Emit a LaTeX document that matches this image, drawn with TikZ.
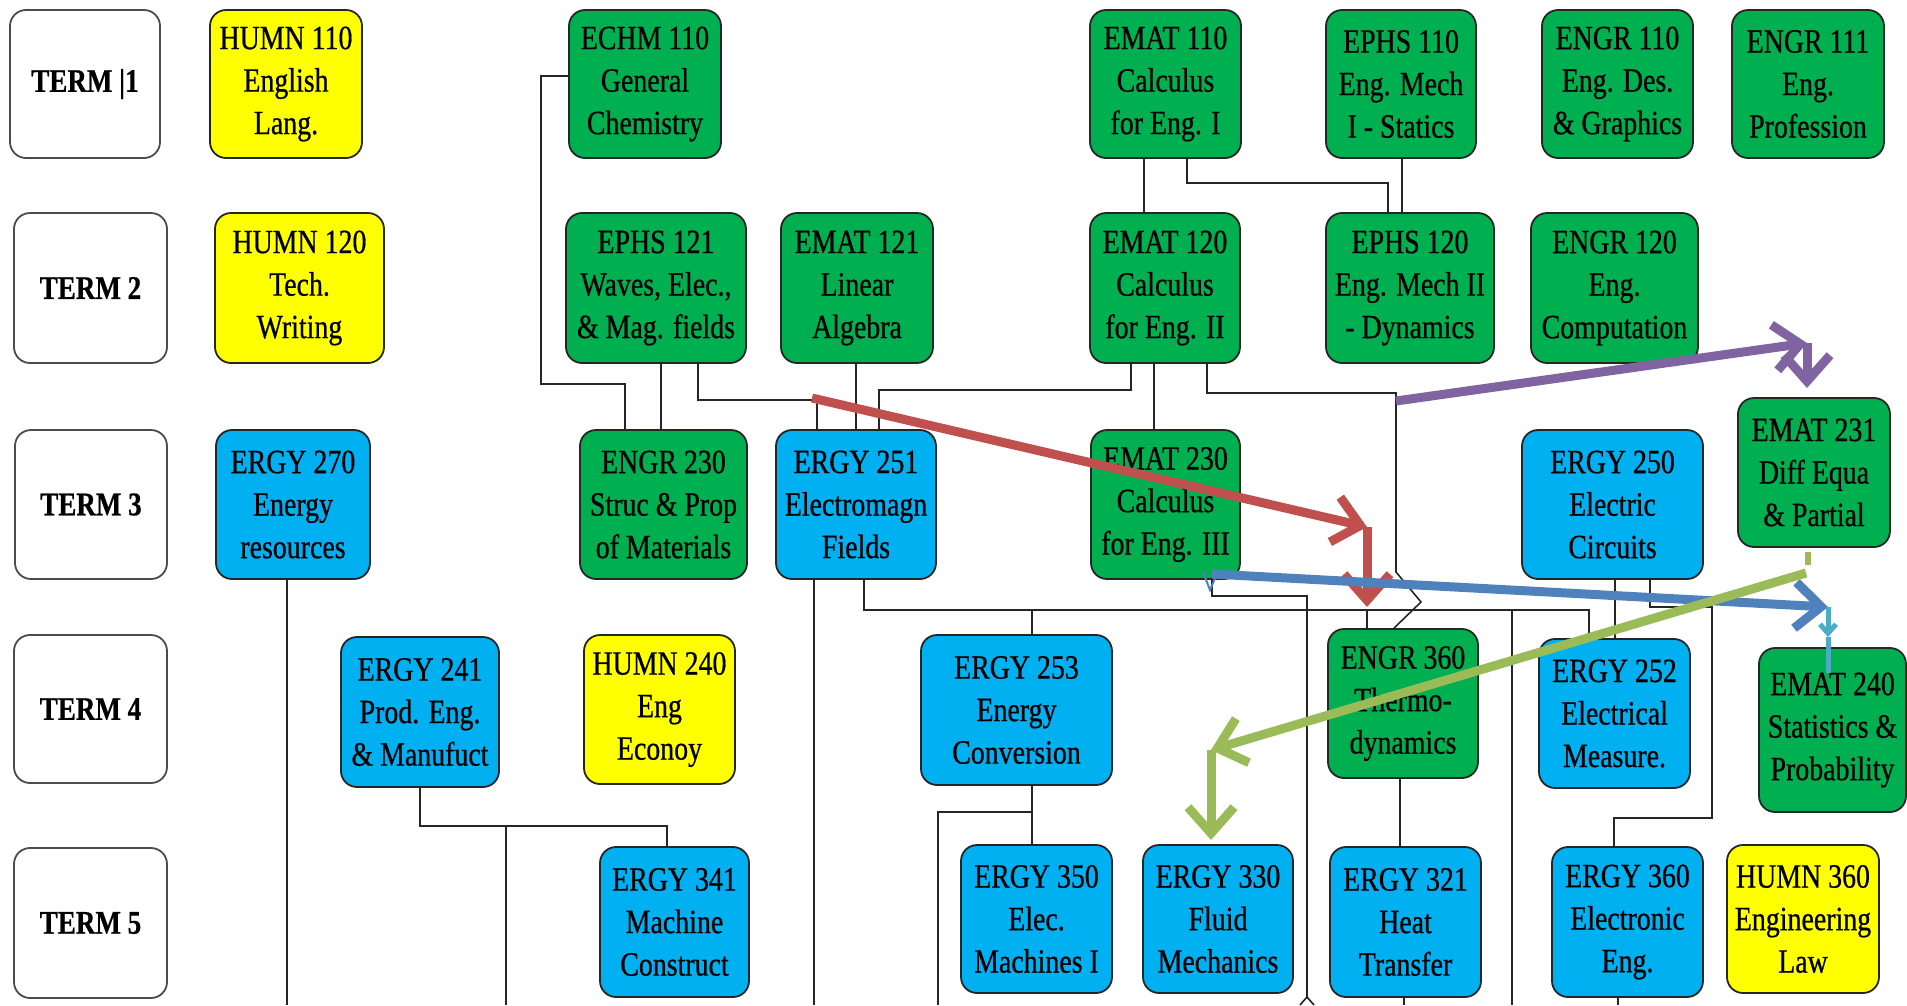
\documentclass[tikz,border=0pt]{standalone}
\usepackage{fontspec}
\setmainfont{Liberation Serif}[FakeStretch=0.82,FakeBold=0.6]
\usetikzlibrary{arrows.meta}
\definecolor{cyel}{HTML}{FFFF00}
\definecolor{cgrn}{HTML}{00B050}
\definecolor{cblu}{HTML}{00B0F0}
\definecolor{ared}{HTML}{C0504D}
\definecolor{apur}{HTML}{8064A2}
\definecolor{ablu}{HTML}{4F81BD}
\definecolor{agrn}{HTML}{9BBB59}
\definecolor{alblu}{HTML}{4BACC6}
\begin{document}
\begin{tikzpicture}[x=1pt,y=-1pt,
 box/.style={rectangle, rounded corners=16pt, draw=black!85, line width=1.8pt, inner sep=0pt, align=center, font=\fontsize{34}{42.5}\selectfont},
 ybox/.style={box, fill=cyel},
 gbox/.style={box, fill=cgrn},
 bbox/.style={box, fill=cblu},
 tbox/.style={box, fill=white, draw=black!70, font=\fontsize{33}{42.5}\selectfont\bfseries},
 sz/.style 2 args={minimum width=#1pt, minimum height=#2pt},
 conn/.style={draw=black!85, line width=1.6pt},
 bigarrow/.style={line width=9pt, -{Straight Barb[length=26pt,width=46pt]}},
]
\useasboundingbox (0,0) rectangle (1907,1005);
% ---------- Row 1
\node[tbox, sz={150}{148}] (t1) at (85,84) {TERM |1};
\node[ybox, sz={152}{148}] (humn110) at (286,84) {HUMN 110\\English\\Lang.};
\node[gbox, sz={152}{148}] (echm110) at (645,84) {ECHM 110\\General\\Chemistry};
\node[gbox, sz={151}{148}] (emat110) at (1165.5,84) {EMAT 110\\Calculus\\for Eng. I};
\node[gbox, sz={150}{148}] (ephs110) at (1401,84) {EPHS 110\\Eng. Mech\\I - Statics};
\node[gbox, sz={151}{148}] (engr110) at (1617.5,84) {ENGR 110\\Eng. Des.\\\& Graphics};
\node[gbox, sz={152}{148}] (engr111) at (1808,84) {ENGR 111\\Eng.\\Profession};
% ---------- Row 2
\node[tbox, sz={153}{150}] (t2) at (90.5,288) {TERM 2};
\node[ybox, sz={169}{150}] (humn120) at (299.5,288) {HUMN 120\\Tech.\\Writing};
\node[gbox, sz={180}{150}] (ephs121) at (656,288) {EPHS 121\\Waves, Elec.,\\\& Mag. fields};
\node[gbox, sz={152}{150}] (emat121) at (857,288) {EMAT 121\\Linear\\Algebra};
\node[gbox, sz={150}{150}] (emat120) at (1165,288) {EMAT 120\\Calculus\\for Eng. II};
\node[gbox, sz={168}{150}] (ephs120) at (1410,288) {EPHS 120\\Eng. Mech II\\- Dynamics};
\node[gbox, sz={167}{150}] (engr120) at (1614.5,288) {ENGR 120\\Eng.\\Computation};
% ---------- Row 3
\node[tbox, sz={152}{149}] (t3) at (91,504.5) {TERM 3};
\node[bbox, sz={154}{149}] (ergy270) at (293,504.5) {ERGY 270\\Energy\\resources};
\node[gbox, sz={167}{149}] (engr230) at (663.5,504.5) {ENGR 230\\Struc \& Prop\\of Materials};
\node[bbox, sz={160}{149}] (ergy251) at (856,504.5) {ERGY 251\\Electromagn\\Fields};
\node[gbox, sz={149}{149}] (emat230) at (1165.5,504.5) {EMAT 230\\Calculus\\for Eng. III};
\node[bbox, sz={181}{149}] (ergy250) at (1612.5,504.5) {ERGY 250\\Electric\\Circuits};
\node[gbox, sz={152}{149}] (emat231) at (1814,472.5) {EMAT 231\\Diff Equa\\\& Partial};
% ---------- Row 4
\node[tbox, sz={153}{148}] (t4) at (90.5,709) {TERM 4};
\node[bbox, sz={158}{150}] (ergy241) at (420,712) {ERGY 241\\Prod. Eng.\\\& Manufuct};
\node[ybox, sz={151}{149}] (humn240) at (659.5,709.5) {HUMN 240\\Eng\\Econoy};
\node[bbox, sz={191}{150}] (ergy253) at (1016.5,710) {ERGY 253\\Energy\\Conversion};
\node[gbox, sz={150}{149}] (engr360) at (1403,703.5) {ENGR 360\\Thermo-\\dynamics};
\node[bbox, sz={151}{149}] (ergy252) at (1614.5,713.5) {ERGY 252\\Electrical\\Measure.};
\node[gbox, sz={147}{164}] (emat240) at (1832.5,730) {EMAT 240\\Statistics \&\\Probability};
% ---------- Row 5
\node[tbox, sz={153}{150}] (t5) at (90.5,923) {TERM 5};
\node[bbox, sz={149}{150}] (ergy341) at (674.5,922) {ERGY 341\\Machine\\Construct};
\node[bbox, sz={151}{148}] (ergy350) at (1036.5,919) {ERGY 350\\Elec.\\Machines I};
\node[bbox, sz={150}{148}] (ergy330) at (1218,919) {ERGY 330\\Fluid\\Mechanics};
\node[bbox, sz={151}{150}] (ergy321) at (1405.5,922) {ERGY 321\\Heat\\Transfer};
\node[bbox, sz={151}{150}] (ergy360) at (1627.5,922) {ERGY 360\\Electronic\\Eng.};
\node[ybox, sz={152}{148}] (humn360) at (1803,919) {HUMN 360\\Engineering\\Law};
% ---------- free ends at the bottom edge
\coordinate (e270) at (287,1005);
\coordinate (e241) at (506,1005);
\coordinate (e251) at (814,1005);
\coordinate (e253) at (938,1005);
\coordinate (e230) at (1307,997);
\coordinate (e321) at (1404,1005);
\coordinate (ebus) at (1512,1005);
\coordinate (e360) at (1618,1005);
% ---------- black connectors
\draw[conn] (echm110.west |- 0,76) -- (541,76) -- (541,384) -- (625,384) -- (engr230.north -| 625,0);
\draw[conn] (ephs121.south -| 661,0) -- (engr230.north -| 661,0);
\draw[conn] (ephs121.south -| 698,0) -- (698,400) -- (817,400) -- (ergy251.north -| 817,0);
\draw[conn] (emat121.south -| 856,0) -- (ergy251.north -| 856,0);
\draw[conn] (emat120.south -| 1131,0) -- (1131,390) -- (879,390) -- (ergy251.north -| 879,0);
\draw[conn] (emat120.south -| 1154,0) -- (emat230.north -| 1154,0);
\draw[conn] (emat120.south -| 1207,0) -- (1207,393) -- (1396,393) -- (1396,572) -- (1421,602) -- (engr360.north -| 1394,0);
\draw[conn] (emat110.south -| 1144,0) -- (emat120.north -| 1144,0);
\draw[conn] (emat110.south -| 1187,0) -- (1187,183) -- (1388,183) -- (ephs120.north -| 1388,0);
\draw[conn] (ephs110.south -| 1402,0) -- (ephs120.north -| 1402,0);
\draw[conn] (ergy251.south -| 814,0) -- (e251);
\draw[conn] (ergy251.south -| 864,0) -- (864,610) -- (1589,610) -- (ergy252.north -| 1589,0);
\draw[conn] (1032,610) -- (ergy253.north -| 1032,0);
\draw[conn] (1367,610) -- (engr360.north -| 1367,0);
\draw[conn] (1512,610) -- (ebus);
\draw[conn] (emat230.south -| 1212,0) -- (1212,596) -- (1307,596) -- (e230);
\draw[conn] (1300,1005) -- (e230) -- (1314,1005);
\draw[conn] (ergy250.south -| 1615,0) -- (ergy252.north -| 1615,0);
\draw[conn] (ergy250.south -| 1650,0) -- (1650,607) -- (1712,607) -- (1712,818) -- (1614,818) -- (ergy360.north -| 1614,0);
\draw[conn] (ergy253.south -| 1032,0) -- (ergy350.north -| 1032,0);
\draw[conn] (1032,812) -- (938,812) -- (e253);
\draw[conn] (engr360.south -| 1400,0) -- (ergy321.north -| 1400,0);
\draw[conn] (ergy321.south -| 1404,0) -- (e321);
\draw[conn] (ergy360.south -| 1618,0) -- (e360);
\draw[conn] (ergy241.south -| 420,0) -- (420,826) -- (667,826) -- (ergy341.north -| 667,0);
\draw[conn] (506,826) -- (e241);
\draw[conn] (ergy270.south -| 287,0) -- (e270);
% ---------- coloured arrows
\coordinate (rs) at (812,398);
\coordinate (rm) at (1367,527);
\coordinate (rt) at (1367,607);
\draw[bigarrow, ared] (rs) -- (rm);
\draw[bigarrow, ared] (rm) -- (rt);
\coordinate (ps) at (1396,401);
\coordinate (pm) at (1807,343);
\coordinate (pt) at (1807,388);
\draw[bigarrow, apur] (ps) -- (pm);
\draw[bigarrow, apur] (pm) -- (pt);
\coordinate (bs) at (1212,574);
\coordinate (bt) at (1828,607);
\draw[bigarrow, ablu] (bs) -- (bt);
\draw[ablu, line width=2pt] (1203,572) -- (1210,590) -- (1216,576);
\coordinate (lbm) at (1828,637);
\draw[alblu, line width=5pt, -{Straight Barb[length=9pt,width=16pt]}] (bt) -- (lbm);
\draw[alblu, line width=5pt] (lbm) -- (1828,673);
\coordinate (gs) at (1808,552);
\coordinate (gm) at (1211,750);
\coordinate (gt) at (1211,840);
\draw[agrn, line width=6pt] (gs) -- (1808,565);
\draw[bigarrow, agrn] (1806,573) -- (gm);
\draw[bigarrow, agrn] (gm) -- (gt);
\end{tikzpicture}
\end{document}
